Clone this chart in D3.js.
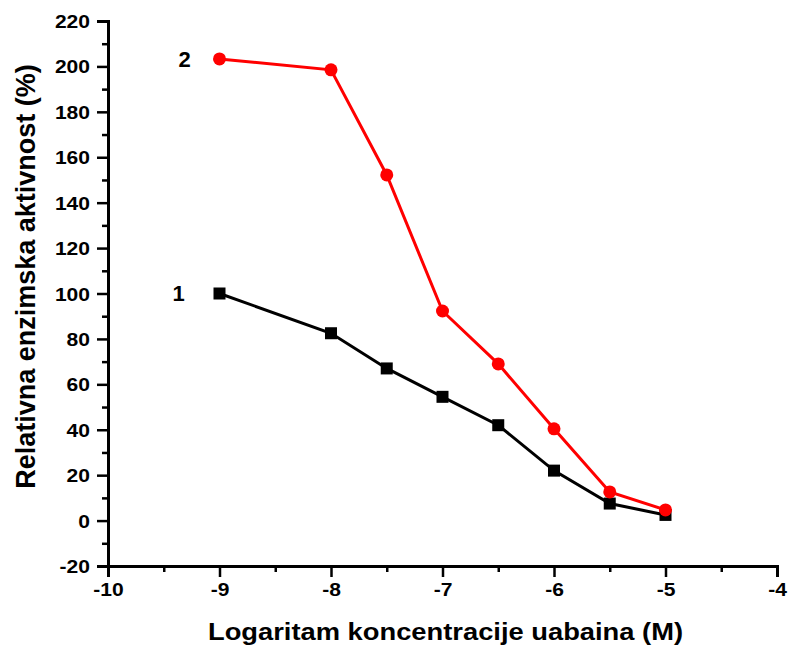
<!DOCTYPE html>
<html>
<head>
<meta charset="utf-8">
<script src="https://cdn.jsdelivr.net/npm/d3@7"></script>
<style>
  body { margin: 0; background: #fff; }
  svg text { font-family: "Liberation Sans", Arial, sans-serif; font-weight: bold; fill: #000; }
</style>
</head>
<body>
<svg width="790" height="648"></svg>
<script>
// log concentration values (x) shared by both series
var logConc = [-9, -8, -7.5, -7, -6.5, -6, -5.5, -5];
// series 1 - black squares
var series1 = [100, 82.5, 67, 54.5, 42, 22, 7.5, 2.5];
// series 2 - red circles
var series2 = [203.3, 198.5, 152.2, 92.3, 69, 40.4, 12.6, 4.7];
var xTicks = [-10, -9, -8, -7, -6, -5, -4];
var yTicks = [-20, 0, 20, 40, 60, 80, 100, 120, 140, 160, 180, 200, 220];
var seriesNames = ["1", "2"];

var svg = d3.select("svg");
var x = d3.scaleLinear().domain([-10, -4]).range([108, 777]);
var y = d3.scaleLinear().domain([-20, 220]).range([566, 21]);
var stretch = 1.17; // tick labels in the original are a bit wide

// minor ticks
var xMinor = d3.range(-9.5, -4, 1);
var yMinor = d3.range(-10, 220, 20);

var gx = svg.append("g").attr("transform", "translate(0,566)");
gx.call(d3.axisBottom(x).tickValues(xMinor).tickSize(6).tickFormat(""));
gx.selectAll(".tick line").attr("stroke-width", 2.5);
gx.select(".domain").remove();
var gx2 = svg.append("g").attr("transform", "translate(0,566)");
gx2.call(d3.axisBottom(x).tickValues(xTicks).tickSize(11).tickFormat(function(d) { return String(d) }));
gx2.selectAll(".tick line").attr("stroke-width", 2.5);
gx2.select(".domain").attr("stroke-width", 3);
gx2.selectAll("text").style("font-size", "18px")
  .attr("y", 30).attr("dy", 0).attr("transform", "scale(" + stretch + ",1)");

var gy = svg.append("g").attr("transform", "translate(108,0)");
gy.call(d3.axisLeft(y).tickValues(yMinor).tickSize(6).tickFormat(""));
gy.selectAll(".tick line").attr("stroke-width", 2.5);
gy.select(".domain").remove();
var gy2 = svg.append("g").attr("transform", "translate(108,0)");
gy2.call(d3.axisLeft(y).tickValues(yTicks).tickSize(11).tickFormat(function(d) { return String(d) }));
gy2.selectAll(".tick line").attr("stroke-width", 2.5);
gy2.select(".domain").attr("stroke-width", 3);
gy2.selectAll("text").style("font-size", "18px")
  .attr("x", -18 / stretch).attr("dy", 6.5).attr("transform", "scale(" + stretch + ",1)");

var line = d3.line().x(function(d) { return x(d[0]) }).y(function(d) { return y(d[1]) });

var pts1 = logConc.map(function(v, i) { return [v, series1[i]] });
var pts2 = logConc.map(function(v, i) { return [v, series2[i]] });

svg.append("path").datum(pts1).attr("d", line)
  .attr("fill", "none").attr("stroke", "#000").attr("stroke-width", 3);
svg.append("g").selectAll("rect").data(pts1).enter().append("rect")
  .attr("x", function(d) { return x(d[0]) - 6 })
  .attr("y", function(d) { return y(d[1]) - 6 })
  .attr("width", 12).attr("height", 12).attr("fill", "#000");

svg.append("path").datum(pts2).attr("d", line)
  .attr("fill", "none").attr("stroke", "#ff0000").attr("stroke-width", 3);
svg.append("g").selectAll("circle").data(pts2).enter().append("circle")
  .attr("cx", function(d) { return x(d[0]) })
  .attr("cy", function(d) { return y(d[1]) })
  .attr("r", 6.5).attr("fill", "#ff0000");

// series labels next to first points
svg.append("text").attr("x", x(-9) - 41).attr("y", y(series1[0]) + 7)
  .attr("text-anchor", "middle").style("font-size", "22px").text(seriesNames[0]);
svg.append("text").attr("x", x(-9) - 35).attr("y", y(series2[0]) + 8)
  .attr("text-anchor", "middle").style("font-size", "22px").text(seriesNames[1]);

// axis titles
svg.append("text").attr("x", 445.5).attr("y", 640)
  .attr("text-anchor", "middle").style("font-size", "23px")
  .attr("textLength", 475).attr("lengthAdjust", "spacingAndGlyphs")
  .text("Logaritam koncentracije uabaina (M)");
svg.append("text")
  .attr("transform", "translate(35,276.5) rotate(-90)")
  .attr("text-anchor", "middle").style("font-size", "27px")
  .text("Relativna enzimska aktivnost (%)");
</script>
</body>
</html>
